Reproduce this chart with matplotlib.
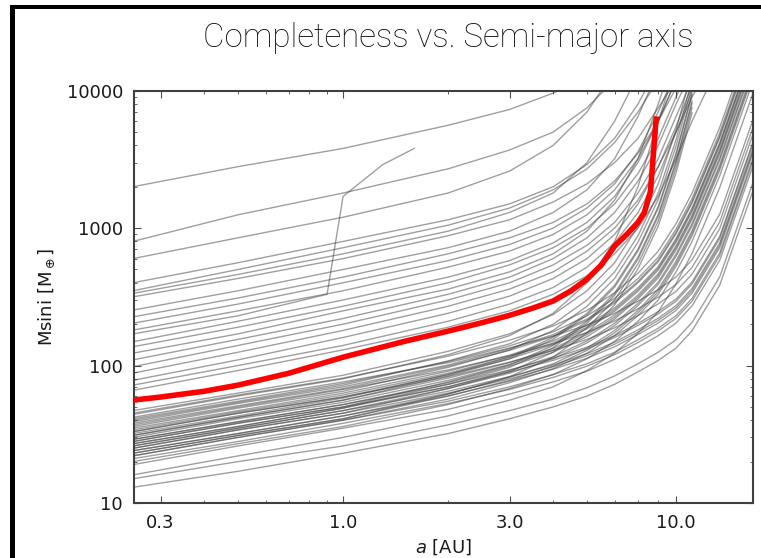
import numpy as np
import matplotlib
matplotlib.use("Agg")
import matplotlib.pyplot as plt
from matplotlib.patches import Rectangle
from matplotlib.ticker import FixedLocator, LogLocator, NullFormatter

A_NODES = [0.25, 0.5, 1, 2, 3, 4, 5, 6, 7, 8, 9, 10, 12, 15]

# Upper group of grey curves (Msini in Earth masses at A_NODES, shorter lists end early)
GRAY_UPPER = [
    [2000, 2800, 3800, 5600, 7300, 9600, 12500],
    [800, 1250, 1800, 2700, 3700, 5000, 7500, 12000],
    [600, 850, 1200, 1800, 2600, 4000, 7000, 14000],
    [400, 560, 800, 1150, 1500, 2000, 2900, 4500, 8000, 15000],
    [350, 500, 720, 1050, 1400, 1900, 2700, 4200, 7000, 12000],
    [335, 460, 650, 950, 1300, 1800, 3000, 6000, 13000],
    [316, 430, 600, 880, 1150, 1550, 2100, 3000, 4500, 7500, 12000],
    [253, 350, 500, 720, 950, 1300, 1900, 3200, 6500, 14000],
    [226, 310, 440, 650, 850, 1100, 1500, 2200, 3500, 6000, 10500],
    [203, 280, 400, 580, 760, 1000, 1400, 2100, 3600, 7000, 14000],
    [181, 250, 350, 520, 680, 900, 1250, 1900, 3200, 6000, 12000],
    [149, 210, 300, 440, 580, 780, 1100, 1700, 3000, 6000, 12000],
    [137, 190, 270, 400, 540, 720, 1000, 1500, 2500, 4500, 9000, 16000],
    [123, 170, 250, 360, 480, 650, 950, 1600, 3200, 8000, 20000],
    [110, 155, 220, 330, 440, 600, 850, 1300, 2200, 4000, 8000, 14000],
    [98, 140, 200, 300, 400, 540, 750, 1100, 1800, 3200, 6500, 12000],
    [88, 125, 180, 270, 360, 480, 680, 1000, 1600, 2800, 5000, 9000, 20000],
    [78, 110, 160, 240, 320, 430, 600, 900, 1500, 2800, 5500, 11000],
    [72, 100, 140, 210, 280, 370, 520, 780, 1300, 2400, 5000, 10000],
    [66, 92, 130, 190, 250, 330, 450, 650, 1000, 1700, 3200, 6000, 16000],
]

# One upper curve with its own sampling (sharp jump just below 1 AU)
SPIKE_A = [0.25, 0.5, 0.9, 1.0, 1.3, 1.6]
SPIKE_M = [170, 230, 330, 1700, 2900, 3800]

# Lower, denser group of grey curves
GRAY_LOWER = [
    [47, 63, 85, 127, 170, 235, 350, 560, 1030, 2100, 5200, 14000],
    [45, 61, 81, 117, 153, 194, 252, 338, 470, 680, 1080, 1800, 5400, 27000],
    [42, 57, 76, 105, 134, 164, 197, 240, 294, 357, 441, 588, 1260, 6300],
    [40, 54, 72, 108, 144, 200, 300, 480, 880, 1800, 4400, 12000],
    [38, 51, 68, 99, 129, 163, 213, 285, 400, 570, 910, 1520, 4560, 22800],
    [36, 49, 65, 97, 130, 180, 270, 430, 790, 1620, 3960, 10800],
    [34, 46, 61, 88, 116, 146, 190, 255, 357, 510, 816, 1360, 4080, 20400],
    [33, 45, 59, 83, 106, 129, 155, 188, 231, 281, 347, 462, 990, 4950],
    [31, 42, 56, 84, 112, 155, 233, 372, 682, 1395, 3410, 9300],
    [30, 41, 54, 78, 102, 129, 168, 225, 315, 450, 720, 1200, 3600, 18000],
    [29, 39, 52, 75, 99, 125, 162, 218, 305, 435, 696, 1160, 3480, 17400],
    [28, 38, 50, 70, 90, 109, 132, 160, 196, 238, 294, 392, 840, 4200],
    [27, 36, 49, 73, 97, 135, 203, 324, 594, 1215, 2970, 8100],
    [26, 35, 47, 68, 88, 112, 146, 195, 273, 390, 624, 1040, 3120, 15600],
    [25, 34, 45, 63, 80, 98, 118, 143, 175, 213, 263, 350, 750, 3750],
    [24, 32, 43, 62, 82, 103, 134, 180, 252, 360, 576, 960, 2880, 14400],
    [23, 31, 41, 62, 83, 115, 173, 276, 506, 1035, 2530, 6900],
    [22, 30, 40, 57, 75, 95, 123, 165, 231, 330, 528, 880, 2640, 13200],
    [21, 28, 38, 53, 67, 82, 99, 120, 147, 179, 221, 294, 630, 3150],
    [20, 27, 36, 52, 68, 86, 112, 150, 210, 300, 480, 800, 2400, 12000],
    [19, 26, 35, 48, 62, 76, 91, 111, 136, 165, 204, 272, 582, 2900],
    [16, 22, 30, 43, 56, 70, 92, 123, 172, 246, 394, 656, 1970, 9840],
    [15, 20, 26, 37, 47, 57, 69, 84, 103, 125, 154, 206, 441, 2200],
    [13, 17, 23, 32, 41, 50, 60, 73, 90, 109, 134, 179, 384, 1920],
    [44, 60, 80, 120, 165, 240, 400, 800, 2000, 6000, 15000],
    [41, 55, 74, 107, 139, 176, 230, 308, 430, 615, 984, 1640, 4920, 24600],
    [37, 50, 67, 93, 118, 144, 174, 211, 259, 315, 389, 518, 1110, 5550],
    [35, 47, 63, 91, 119, 151, 196, 263, 368, 525, 840, 1400, 4200, 21000],
    [32, 43, 58, 86, 115, 160, 240, 384, 704, 1440, 3520, 9600],
    [29, 39, 52, 73, 93, 113, 136, 165, 203, 247, 305, 406, 870, 4350],
    [27, 36, 49, 70, 92, 116, 151, 203, 284, 405, 648, 1080, 3240, 16200],
    [25, 34, 45, 68, 90, 125, 188, 300, 550, 1125, 2750, 7500],
    [23, 31, 41, 60, 78, 99, 129, 173, 242, 345, 552, 920, 2760, 13800],
    [22, 30, 40, 55, 70, 86, 103, 125, 154, 187, 231, 308, 660, 3300],
    [24, 32, 43, 60, 77, 94, 113, 137, 168, 204, 252, 336, 720, 3600],
    [31, 42, 56, 81, 105, 133, 174, 233, 326, 465, 744, 1240, 3720, 18600],
    [39, 53, 70, 101, 133, 168, 218, 293, 410, 585, 936, 1560, 4680, 23400],
    [28, 38, 50, 76, 101, 140, 210, 336, 616, 1260, 3080, 8400],
    [33, 45, 59, 86, 112, 142, 185, 248, 347, 495, 792, 1320, 3960, 19800],
    [26, 35, 47, 65, 83, 101, 122, 148, 182, 221, 273, 364, 780, 3900],
]

# Median completeness curve (red)
RED_A = [0.25, 0.3, 0.4, 0.5, 0.7, 1.0, 1.5, 2.0, 2.5, 3.0, 3.5, 4.0, 4.5,
         5.0, 5.5, 6.0, 6.5, 7.0, 7.3, 7.6, 7.9]
RED_M = [56, 59, 65, 72, 88, 115, 150, 178, 205, 232, 262, 295, 350,
         425, 540, 740, 900, 1100, 1300, 1850, 6500]

# Tick positions / labels as they appear on the original
X_TICKS = [0.3, 1.0, 3.0, 9.0]
X_TICKLABELS = ["0.3", "1.0", "3.0", "10.0"]
Y_TICKS = [10, 100, 1000, 10000]
Y_TICKLABELS = ["10", "100", "1000", "10000"]

fig = plt.figure(figsize=(7.61, 5.58), dpi=100)
ax = fig.add_axes([0.1761, 0.0986, 0.8134, 0.7389])

for m in GRAY_UPPER + GRAY_LOWER:
    ax.plot(A_NODES[:len(m)], m, color="0.25", alpha=0.5, lw=1.0)
ax.plot(SPIKE_A, SPIKE_M, color="0.25", alpha=0.5, lw=1.0)

ax.plot(RED_A, RED_M, color="red", lw=4, solid_capstyle="butt", zorder=5)

ax.set_xscale("log")
ax.set_yscale("log")
ax.set_xlim(0.2518, 14.95)
ax.set_ylim(10, 10000)

ax.xaxis.set_major_locator(FixedLocator(X_TICKS))
ax.set_xticklabels(X_TICKLABELS)
ax.xaxis.set_minor_locator(LogLocator(base=10, subs=np.arange(2, 10) / 1.0))
ax.xaxis.set_minor_formatter(NullFormatter())
ax.yaxis.set_major_locator(FixedLocator(Y_TICKS))
ax.set_yticklabels(Y_TICKLABELS)
ax.yaxis.set_minor_locator(LogLocator(base=10, subs=np.arange(2, 10) / 1.0))
ax.yaxis.set_minor_formatter(NullFormatter())

ax.tick_params(which="both", direction="in", top=True, right=True,
               color="0.3", labelsize=13, labelcolor="0.1")
ax.tick_params(which="major", length=5, width=0.8, pad=8)
ax.tick_params(which="minor", length=2.5, width=0.6)
for sp in ax.spines.values():
    sp.set_color("0.25")
    sp.set_linewidth(1.5)

ax.set_xlabel("$a$ [AU]", fontsize=13, color="0.1", labelpad=4)
ax.set_ylabel(r"Msini [M$_\oplus$]", fontsize=13, color="0.1", labelpad=7)

fig.text(448 / 761, 1 - 38 / 558, "Completeness vs. Semi-major axis",
         ha="center", va="center", fontsize=23.8, family="Roboto",
         fontweight="light", color="0.05")

# black slide frame on the left and top edges
fig.add_artist(Rectangle((10 / 761, 0), 5 / 761, 1 - 5 / 558,
                         transform=fig.transFigure, color="black", lw=0))
fig.add_artist(Rectangle((10 / 761, 1 - 9 / 558), 1, 4 / 558,
                         transform=fig.transFigure, color="black", lw=0))

fig.savefig("out.png", dpi=100)
